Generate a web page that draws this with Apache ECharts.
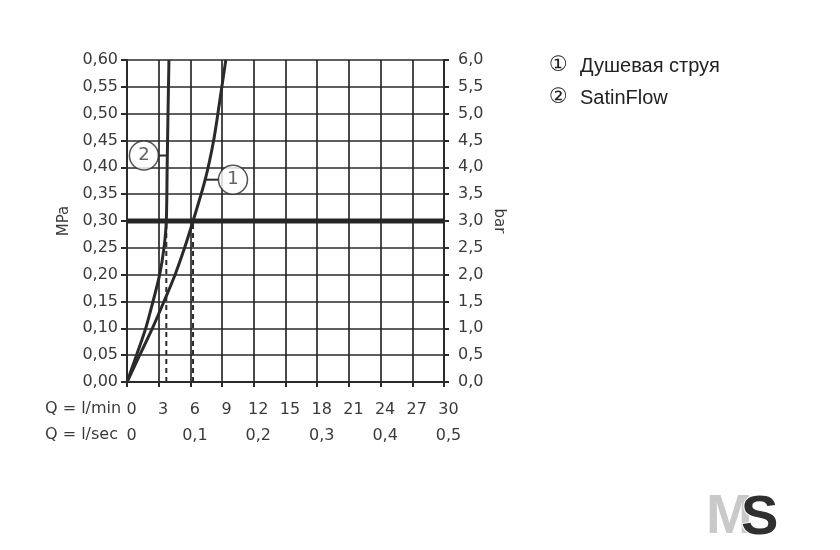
<!DOCTYPE html>
<html>
<head>
<meta charset="utf-8">
<script src="https://cdn.jsdelivr.net/npm/echarts@6/dist/echarts.min.js"></script>
<style>html,body{margin:0;padding:0;background:#fff}#c{width:840px;height:550px}</style>
</head>
<body>
<div id="c"></div>
<script>
// Curve 1: Душевая струя (flow l/min, pressure MPa)
const curve1Flow     = [0, 1.2, 2.4, 3.5, 4.55, 5.45, 6.25, 7.4, 8.2, 8.75, 9.35];
const curve1Pressure = [0, 0.05, 0.10, 0.15, 0.20, 0.25, 0.30, 0.377, 0.45, 0.52, 0.60];
// Curve 2: SatinFlow
const curve2Flow     = [0, 0.9, 1.77, 2.46, 3.09, 3.5, 3.72, 3.8, 3.88, 3.97];
const curve2Pressure = [0, 0.05, 0.10, 0.15, 0.20, 0.25, 0.30, 0.40, 0.50, 0.60];
// reference pressure and flow read-offs
const refPressure = 0.30;
const readFlows = [3.72, 6.25];
// circled labels: [flow, pressure] of marker, leader start/end flow
const labelNames = ['1', '2'];
const labelFlow = [10.03, 1.6];
const labelPressure = [0.377, 0.422];
const leaderFrom = [7.4, 2.95];
const leaderTo = [8.68, 3.78];
// axes
const flowMin = 0, flowMax = 30, flowStep = 3;
const secMax = 0.5, secStep = 0.1;
const mpaMax = 0.6, mpaStep = 0.05;
const barMax = 6, barStep = 0.5;
const legendItems = ['Душевая струя', 'SatinFlow'];
const legendMarks = ['①', '②'];

const ink = '#2a2a2a';
const txt = '#3a3a3a';
const font = 'DejaVu Sans';

const chart = echarts.init(document.getElementById('c'), null, {renderer: 'canvas'});

const zip = (a, b) => a.map((v, i) => [v, b[i]]);

const series = [];
series.push({type: 'line', data: zip(curve1Flow, curve1Pressure), smooth: 0.3, showSymbol: false,
  lineStyle: {color: ink, width: 3}, z: 5, silent: true});
series.push({type: 'line', data: zip(curve2Flow, curve2Pressure), smooth: 0.3, showSymbol: false,
  lineStyle: {color: ink, width: 3}, z: 5, silent: true});
series.push({type: 'line', data: [[flowMin, refPressure], [flowMax, refPressure]], showSymbol: false,
  lineStyle: {color: '#262626', width: 5}, z: 6, silent: true});
readFlows.forEach(f => {
  series.push({type: 'line', data: [[f, 0], [f, refPressure]], showSymbol: false,
    lineStyle: {color: ink, width: 2, type: [5, 4]}, z: 4, silent: true});
});
labelNames.forEach((n, i) => {
  series.push({type: 'line', data: [[leaderFrom[i], labelPressure[i]], [leaderTo[i], labelPressure[i]]],
    showSymbol: false, lineStyle: {color: ink, width: 2}, z: 7, silent: true});
});
series.push({type: 'scatter', data: labelNames.map((n, i) => ({value: [labelFlow[i], labelPressure[i]], name: n})),
  symbol: 'circle', symbolSize: 29, z: 8, silent: true,
  itemStyle: {color: '#fff', borderColor: ink, borderWidth: 1.5},
  label: {show: true, position: 'inside', formatter: p => p.name, color: txt, fontFamily: font, fontSize: 18}});

const axisLbl = {fontFamily: font, fontSize: 16, color: txt};

const option = {
  animation: false,
  backgroundColor: '#fff',
  grid: {left: 127, right: 396, top: 60, bottom: 168, containLabel: false},
  xAxis: [
    {type: 'value', min: flowMin, max: flowMax, interval: flowStep, position: 'bottom',
     axisLine: {show: true, onZero: false, lineStyle: {color: ink, width: 2}},
     axisTick: {show: true, length: 5, lineStyle: {color: ink, width: 2}},
     splitLine: {show: true, lineStyle: {color: ink, width: 1.7}},
     axisLabel: Object.assign({margin: 20, padding: [0, 0, 0, 9], formatter: v => String(v)}, axisLbl)},
    {type: 'value', min: 0, max: secMax, interval: secStep, position: 'bottom', offset: 26,
     axisLine: {show: false}, axisTick: {show: false}, splitLine: {show: false},
     axisLabel: Object.assign({margin: 20, padding: [0, 0, 0, 9],
       formatter: v => v === 0 ? '0' : v.toFixed(1).replace('.', ',')}, axisLbl)}
  ],
  yAxis: [
    {type: 'value', min: 0, max: mpaMax, interval: mpaStep, position: 'left',
     name: 'MPa', nameLocation: 'middle', nameGap: 55, nameRotate: 90,
     nameTextStyle: {fontFamily: font, fontSize: 15, color: txt},
     axisLine: {show: true, onZero: false, lineStyle: {color: ink, width: 2}},
     axisTick: {show: true, length: 6, lineStyle: {color: ink, width: 2}},
     splitLine: {show: true, lineStyle: {color: ink, width: 1.7}},
     axisLabel: Object.assign({margin: 9, formatter: v => v.toFixed(2).replace('.', ',')}, axisLbl)},
    {type: 'value', min: 0, max: barMax, interval: barStep, position: 'right',
     name: 'bar', nameLocation: 'middle', nameGap: 47, nameRotate: -90,
     nameTextStyle: {fontFamily: font, fontSize: 15, color: txt},
     axisLine: {show: true, onZero: false, lineStyle: {color: ink, width: 2}},
     axisTick: {show: true, length: 5, lineStyle: {color: ink, width: 2}},
     splitLine: {show: false},
     axisLabel: Object.assign({margin: 14, formatter: v => v.toFixed(1).replace('.', ',')}, axisLbl)}
  ],
  graphic: [
    {type: 'text', left: 45, top: 401, style: {text: 'Q = l/min', fontFamily: font, fontSize: 16, fill: txt}},
    {type: 'text', left: 45, top: 427, style: {text: 'Q = l/sec', fontFamily: font, fontSize: 16, fill: txt}},
    {type: 'text', left: 549, top: 55, style: {text: legendMarks[0], fontFamily: 'DejaVu Sans', fontSize: 21, fill: '#222'}},
    {type: 'text', left: 580, top: 56, style: {text: legendItems[0], fontFamily: 'Liberation Sans', fontSize: 20, fill: '#222'}},
    {type: 'text', left: 549, top: 87, style: {text: legendMarks[1], fontFamily: 'DejaVu Sans', fontSize: 21, fill: '#222'}},
    {type: 'text', left: 580, top: 88, style: {text: legendItems[1], fontFamily: 'Liberation Sans', fontSize: 20, fill: '#222'}},
    {type: 'text', left: 706, top: 490, style: {text: 'M', fontFamily: 'Liberation Sans', fontWeight: 'bold', fontSize: 56, fill: '#c9c9c9'}},
    {type: 'text', left: 740, top: 490, style: {text: 'S', fontFamily: 'Liberation Sans', fontWeight: 'bold', fontSize: 56, fill: '#2f2f2f', stroke: '#fff', lineWidth: 2}}
  ],
  series: series
};
chart.setOption(option);
</script>
</body>
</html>
